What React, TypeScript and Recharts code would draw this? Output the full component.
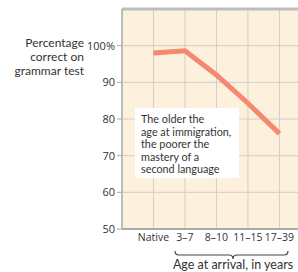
import React from "react";
import { LineChart, Line, XAxis, YAxis, CartesianGrid, ReferenceLine } from "recharts";

const categories = ["Native", "3–7", "8–10", "11–15", "17–39"];
const positions = [1, 2, 3, 4, 5];
const scores = [98, 98.6, 92, 84.3, 76];
const yTicks = [50, 60, 70, 80, 90, 100];
const yTitle = ["Percentage", "correct on", "grammar test"];
const note = ["The older the", "age at immigration,", "the poorer the", "mastery of a", "second language"];
const xTitle = "Age at arrival, in years";

const data = positions.map((p, i) => ({ x: p, v: scores[i] }));

const FONT = "'Open Sans', sans-serif";
const NOTE_FONT = "Lato, sans-serif";
const TXT = "#333";

export default function App() {
  return (
    <div style={{ position: "absolute", left: 0, top: 0, width: 298, height: 272, background: "#fff", fontFamily: FONT }}>
      <LineChart width={298} height={272} data={data} margin={{ top: 9, right: 0, bottom: 0, left: 0 }}>
        <CartesianGrid
          fill="#FDF1DE"
          stroke="#D3CEC6"
          strokeWidth={1}
          horizontalValues={[60, 70, 80, 90, 100]}
          verticalValues={positions}
        />
        <XAxis
          type="number"
          dataKey="x"
          domain={[0, 5.59]}
          ticks={positions}
          height={43}
          tickFormatter={(v: number) => categories[v - 1]}
          tickSize={0}
          tickMargin={5}
          axisLine={{ stroke: "#A9A9A9", strokeWidth: 2 }}
          tick={{ fill: TXT, fontSize: 10.5, fontFamily: FONT }}
          interval={0}
        />
        <YAxis
          type="number"
          domain={[50, 110]}
          ticks={yTicks}
          width={122}
          tickSize={5}
          tickMargin={2}
          tickFormatter={(v: number) => (v === 100 ? "100%" : String(v))}
          axisLine={{ stroke: "#A9A9A9", strokeWidth: 1.5 }}
          tickLine={{ stroke: "#A9A9A9" }}
          tick={{ fill: TXT, fontSize: 11, fontFamily: FONT }}
        />
        <ReferenceLine y={110} stroke="#BDBDBD" strokeWidth={3} />
        <Line
          type="linear"
          dataKey="v"
          stroke="#F4896F"
          strokeWidth={5}
          dot={false}
          isAnimationActive={false}
        />
      </LineChart>
      <div style={{ position: "absolute", right: 298 - 84, top: 36, textAlign: "right", fontFamily: NOTE_FONT, fontSize: 12, lineHeight: "14px", color: TXT, whiteSpace: "nowrap" }}>
        {yTitle.map((t, i) => (
          <div key={i}>{t}</div>
        ))}
      </div>
      <div style={{ position: "absolute", left: 135, top: 108, width: 104, height: 70, background: "#fff", boxSizing: "border-box", padding: "5px 0 0 6px", fontFamily: NOTE_FONT, fontSize: 10.8, lineHeight: "12.5px", color: TXT, whiteSpace: "nowrap" }}>
        {note.map((t, i) => (
          <div key={i}>{t}</div>
        ))}
      </div>
      <svg style={{ position: "absolute", left: 0, top: 0 }} width={298} height={272}>
        <path d="M175,251 Q175,255 179,255 L229,255 Q233,255 233,259 Q233,255 237,255 L284,255 Q288,255 288,251" fill="none" stroke="#444" strokeWidth={1.2} />
      </svg>
      <div style={{ position: "absolute", left: 172, top: 258, width: 122, textAlign: "center", fontFamily: NOTE_FONT, fontSize: 12.5, lineHeight: "14px", color: TXT, whiteSpace: "nowrap" }}>
        {xTitle}
      </div>
    </div>
  );
}
